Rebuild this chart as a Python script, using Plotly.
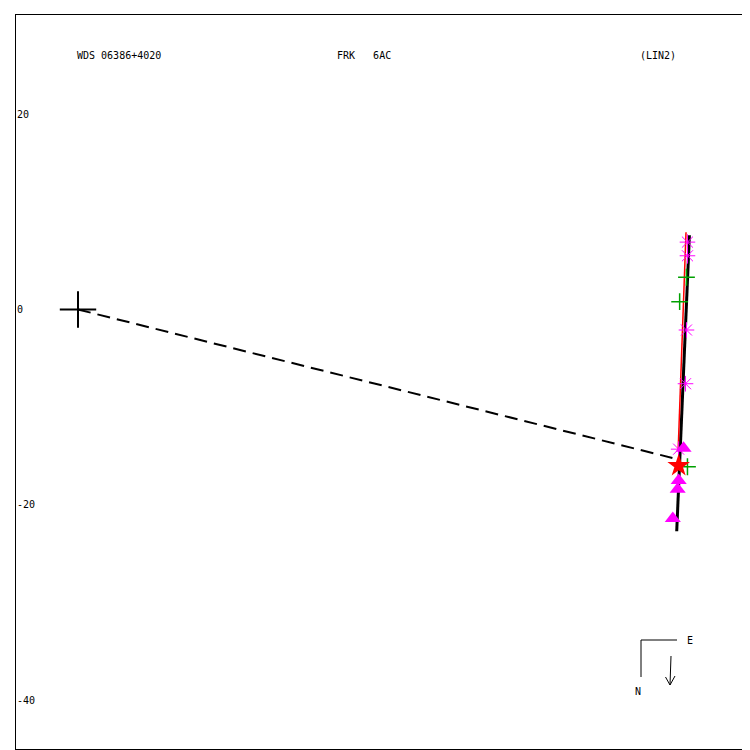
import plotly.graph_objects as go

# ---- data (plot units) ----
primary_x = [0.0]
primary_y = [0.0]

# dashed line: primary to point on track
dash_x = [0.0, 60.86]
dash_y = [0.0, -15.2]

# linear ephemeris track (black)
track_x = [62.6, 61.3]
track_y = [7.6, -22.7]

# residual (red) line
resid_x = [62.25, 61.85, 61.6, 61.45]
resid_y = [7.9, -4.2, -10.0, -14.3]

# observations
ast_x = [62.4, 62.4, 62.3, 62.2, 61.5]
ast_y = [6.9, 5.5, -2.1, -7.6, -14.3]

plus_x = [62.3, 61.6, 62.4]
plus_y = [3.3, 0.8, -16.1]

tri_x = [62.0, 61.5, 61.4, 60.9]
tri_y = [-14.2, -17.5, -18.4, -21.4]

star_x = [61.5]
star_y = [-16.0]

ytick_vals = [20, 0, -20, -40]
ytick_text = ["20", "0", "-20", "-40"]

title_left = "WDS 06386+4020"
title_mid = "FRK   6AC"
title_right = "(LIN2)"

FONT = "DejaVu Sans Mono"

fig = go.Figure()

fig.add_trace(go.Scatter(x=dash_x, y=dash_y, mode="lines",
                         line=dict(color="black", width=2, dash="13px,7px")))
fig.add_trace(go.Scatter(x=track_x, y=track_y, mode="lines",
                         line=dict(color="black", width=3)))
fig.add_trace(go.Scatter(x=resid_x, y=resid_y, mode="lines",
                         line=dict(color="red", width=1.5)))
fig.add_trace(go.Scatter(x=primary_x, y=primary_y, mode="markers",
                         marker=dict(symbol="cross-thin", size=26, color="black",
                                     line=dict(color="black", width=2))))
fig.add_trace(go.Scatter(x=ast_x, y=ast_y, mode="markers",
                         marker=dict(symbol="asterisk-open", size=13, color="#ff00ff",
                                     line=dict(color="#ff00ff", width=1))))
fig.add_trace(go.Scatter(x=plus_x, y=plus_y, mode="markers",
                         marker=dict(symbol="cross-thin-open", size=12, color="#00a000",
                                     line=dict(color="#00a000", width=1.5))))
fig.add_trace(go.Scatter(x=tri_x, y=tri_y, mode="markers",
                         marker=dict(symbol="triangle-up", size=14,
                                     color="#ff00ff", line=dict(width=0))))
fig.add_trace(go.Scatter(x=star_x, y=star_y, mode="markers",
                         marker=dict(symbol="star", size=17,
                                     color="red", line=dict(width=0))))

# page offset of the plot div (body margin)
OFF = 7
ML, MT = 15 - OFF, 14 - OFF
PW = 734


def px(xp):
    return (xp - 15) / PW


def py(yp):
    return (748 - yp) / PW


shapes = [
    dict(type="line", xref="paper", yref="paper",
         x0=px(640), y0=py(639), x1=px(676), y1=py(639),
         line=dict(color="black", width=1)),
    dict(type="line", xref="paper", yref="paper",
         x0=px(640), y0=py(639), x1=px(640), y1=py(676),
         line=dict(color="black", width=1)),
    dict(type="line", xref="paper", yref="paper",
         x0=px(670), y0=py(655), x1=px(669), y1=py(684),
         line=dict(color="black", width=1)),
    dict(type="line", xref="paper", yref="paper",
         x0=px(664.5), y0=py(676), x1=px(669), y1=py(684),
         line=dict(color="black", width=1)),
    dict(type="line", xref="paper", yref="paper",
         x0=px(674), y0=py(675), x1=px(669), y1=py(684),
         line=dict(color="black", width=1)),
]

annotations = [
    dict(text=title_left, x=px(74), y=py(55), xref="paper", yref="paper",
         xanchor="left", yanchor="middle", showarrow=False),
    dict(text=title_mid, x=px(334), y=py(55), xref="paper", yref="paper",
         xanchor="left", yanchor="middle", showarrow=False),
    dict(text=title_right, x=px(637), y=py(55), xref="paper", yref="paper",
         xanchor="left", yanchor="middle", showarrow=False),
    dict(text="E", x=px(684), y=py(639), xref="paper", yref="paper",
         xanchor="left", yanchor="middle", showarrow=False),
    dict(text="N", x=px(637), y=py(690), xref="paper", yref="paper",
         xanchor="center", yanchor="middle", showarrow=False),
]

s = 9.767
x0, y0 = 77.0, 308.5
xr = [(15 - x0) / s, (749 - x0) / s]
yr = [(y0 - 748) / s, (y0 - 14) / s]

fig.update_layout(
    width=750, height=750,
    margin=dict(l=ML, r=750 - ML - PW, t=MT, b=750 - MT - PW),
    paper_bgcolor="white", plot_bgcolor="white",
    showlegend=False,
    font=dict(family=FONT, size=10, color="black"),
    shapes=shapes, annotations=annotations,
    xaxis=dict(range=xr, showgrid=False, zeroline=False, showticklabels=False,
               ticks="", showline=True, linecolor="black", linewidth=1, mirror=True),
    yaxis=dict(range=yr, showgrid=False, zeroline=False,
               tickvals=ytick_vals, ticktext=ytick_text,
               ticklabelposition="inside", ticks="",
               tickfont=dict(family=FONT, size=10, color="black"),
               showline=True, linecolor="black", linewidth=1, mirror=True),
)

fig.write_html("out.html")
